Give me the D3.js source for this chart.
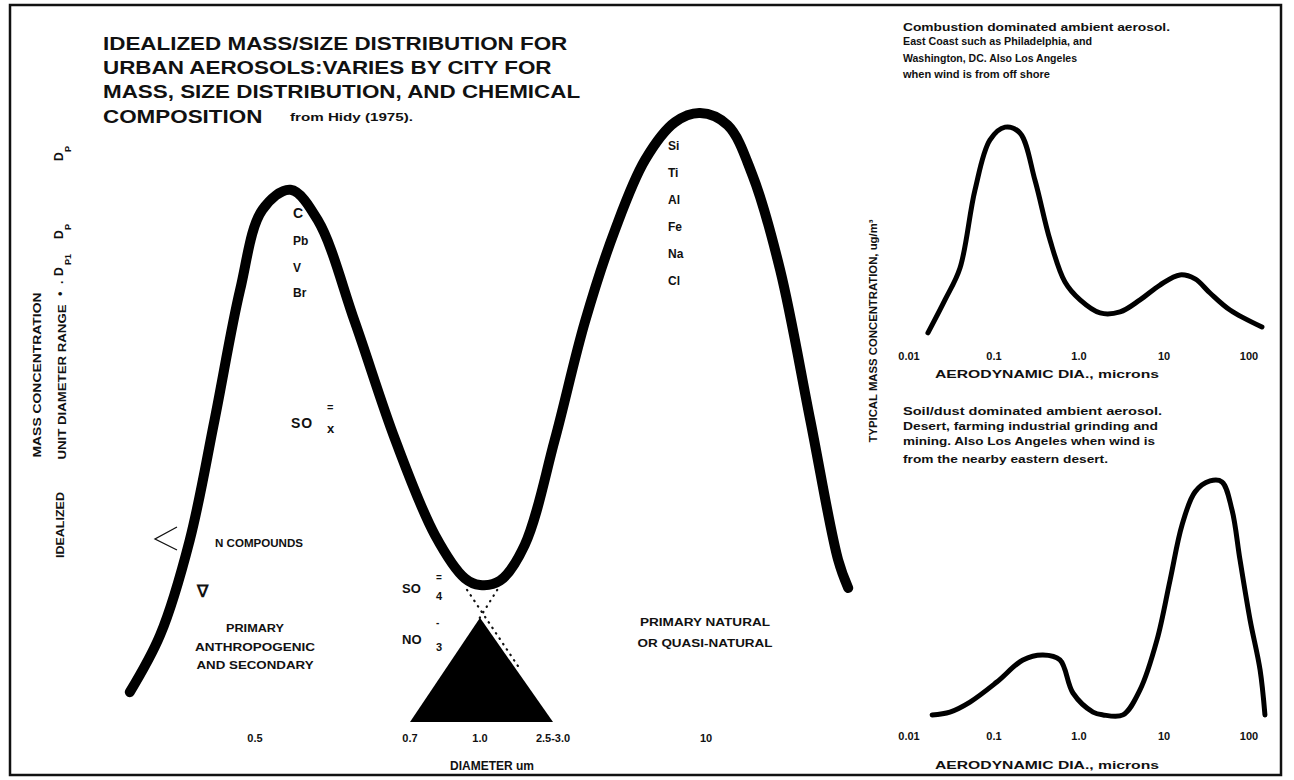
<!DOCTYPE html>
<html>
<head>
<meta charset="utf-8">
<script src="https://cdn.jsdelivr.net/npm/d3@7"></script>
<style>
  body { margin: 0; background: #fff; }
  text { font-family: "Liberation Sans", Arial, sans-serif; font-weight: bold; fill: #111; }
</style>
</head>
<body>
<div id="container"></div>
<script>
/* DATA */
// main idealized distribution (diameter in um, relative mass)
const mainTickValues = [0.5, 0.7, 1.0, 2.75, 10];
const mainTickLabels = ["0.5", "0.7", "1.0", "2.5-3.0", "10"];
const mainDiam = [0.381, 0.407, 0.434, 0.458, 0.484, 0.508, 0.540, 0.573, 0.621, 0.678,
  0.795, 0.926, 1.0, 1.32, 1.86, 2.79, 3.60, 4.64, 5.98, 7.70, 9.51, 12.0, 14.8, 18.7, 24.1, 30.5, 33.2];
const mainMass = [0.049, 0.143, 0.299, 0.496, 0.709, 0.841, 0.874, 0.824, 0.657, 0.463,
  0.307, 0.236, 0.225, 0.232, 0.291, 0.463, 0.657, 0.808, 0.923, 0.985, 1.0, 0.980, 0.898, 0.742, 0.496, 0.266, 0.220];

// sulfate / nitrate triangle and dotted guide lines
const triDiam = [0.7, 1.0, 2.75];
const triMass = [0, 0.171, 0];
const dotA = { diam: [0.936, 1.72], mass: [0.217, 0.089] };
const dotB = { diam: [1.27, 0.985], mass: [0.217, 0.164] };

const fineElements = ["C", "Pb", "V", "Br"];
const coarseElements = ["Si", "Ti", "Al", "Fe", "Na", "Cl"];

// insets: typical mass concentration vs aerodynamic diameter
const insetTickValues = [0.01, 0.1, 1, 10, 100];
const insetTickLabels = ["0.01", "0.1", "1.0", "10", "100"];
const combustionDiam = [0.0167, 0.0265, 0.0398, 0.0597, 0.0897, 0.135, 0.202, 0.303, 0.456, 0.684,
  1.03, 1.77, 3.04, 5.22, 8.97, 15.4, 23.2, 34.8, 59.8, 142];
const combustionMass = [0.01, 0.167, 0.319, 0.69, 0.929, 0.99, 0.962, 0.738, 0.452, 0.252,
  0.167, 0.105, 0.11, 0.167, 0.238, 0.286, 0.267, 0.2, 0.119, 0.038];
const soilDiam = [0.0187, 0.0303, 0.0522, 0.108, 0.219, 0.377, 0.597, 0.849, 1.46, 1.92, 3.29,
  5.22, 8.27, 11.8, 16.3, 23.2, 34.8, 48.1, 63.1, 78.4, 103, 135, 154];
const soilMass = [0.013, 0.025, 0.067, 0.151, 0.244, 0.265, 0.244, 0.105, 0.025, 0.013, 0.013,
  0.118, 0.328, 0.58, 0.811, 0.95, 0.996, 0.992, 0.874, 0.664, 0.412, 0.202, 0.013];

const titleLines = ["IDEALIZED MASS/SIZE DISTRIBUTION FOR", "URBAN AEROSOLS:VARIES BY CITY FOR",
  "MASS, SIZE DISTRIBUTION, AND CHEMICAL", "COMPOSITION"];
const combustionNote = ["Combustion dominated ambient aerosol.", "East Coast such as Philadelphia, and",
  "Washington, DC. Also Los Angeles", "when wind is from off shore"];
const soilNote = ["Soil/dust dominated ambient aerosol.", "Desert, farming industrial grinding and",
  "mining. Also Los Angeles when wind is", "from the nearby eastern desert."];

/* CONSTANTS AND GLOBALS */
const width = 1294, height = 780;

const svg = d3.select('#container')
  .append('svg')
  .attr("width", width)
  .attr("height", height);

// squeeze or stretch a text to a given width
function fit(sel, w) {
  return sel.attr("textLength", w).attr("lengthAdjust", "spacingAndGlyphs");
}

// frame
svg.append("rect")
  .attr("x", 10).attr("y", 5)
  .attr("width", 1271).attr("height", 770)
  .attr("fill", "none").attr("stroke", "#111").attr("stroke-width", 2.5);

// Main scales (schematic, piecewise log axis)
const xMain = d3.scaleLog()
  .domain(mainTickValues)
  .range([255, 410, 480, 553, 706]);
const yMain = d3.scaleLinear()
  .domain([0, 1])
  .range([722, 113]);

const mainLine = d3.line()
  .x(d => xMain(d[0]))
  .y(d => yMain(d[1]))
  .curve(d3.curveCatmullRom.alpha(0.5));

// triangle (SO4 / NO3 range)
svg.append("path")
  .attr("d", d3.line()(triDiam.map((d, i) => [xMain(d), yMain(triMass[i])])) + "Z")
  .attr("fill", "#000");

[dotA, dotB].forEach(l => {
  svg.append("path")
    .attr("d", d3.line()(l.diam.map((d, i) => [xMain(d), yMain(l.mass[i])])))
    .attr("stroke", "#111")
    .attr("stroke-width", 2.2)
    .attr("stroke-linecap", "round")
    .attr("stroke-dasharray", "0.5,6")
    .attr("fill", "none");
});

svg.append("path")
  .attr("d", mainLine(mainDiam.map((d, i) => [d, mainMass[i]])))
  .attr("fill", "none")
  .attr("stroke", "#000")
  .attr("stroke-width", 10)
  .attr("stroke-linejoin", "round")
  .attr("stroke-linecap", "round");

// main tick labels
svg.append("g").selectAll("text")
  .data(mainTickValues)
  .join("text")
  .attr("x", d => xMain(d))
  .attr("y", 742)
  .attr("text-anchor", "middle")
  .attr("font-size", 11)
  .attr("font-weight", "normal")
  .text((d, i) => mainTickLabels[i]);

svg.append("text")
  .attr("x", 492).attr("y", 770)
  .attr("text-anchor", "middle")
  .attr("font-size", 12)
  .attr("font-weight", "normal")
  .text("DIAMETER  um");

// title
const title = svg.append("g")
  .attr("transform", "translate(103,0) scale(1.18,1)");
titleLines.forEach((t, i) => {
  title.append("text")
    .attr("x", 0)
    .attr("y", 50 + i * 24.2)
    .attr("font-size", 19)
    .text(t);
});
fit(svg.append("text").attr("x", 290).attr("y", 121).attr("font-size", 11), 123)
  .text("from Hidy (1975).");

// element labels under the peaks
svg.append("g").selectAll("text")
  .data(fineElements)
  .join("text")
  .attr("x", 293)
  .attr("y", (d, i) => [218, 245, 272, 297][i])
  .attr("font-size", (d, i) => i === 0 ? 14 : 12)
  .text(d => d);

svg.append("g").selectAll("text")
  .data(coarseElements)
  .join("text")
  .attr("x", 668)
  .attr("y", (d, i) => 150 + i * 27)
  .attr("font-size", 12)
  .text(d => d);

// SOx
svg.append("text").attr("x", 291).attr("y", 428).attr("font-size", 14).attr("letter-spacing", 1).text("SO");
svg.append("text").attr("x", 327).attr("y", 411).attr("font-size", 11).text("=");
svg.append("text").attr("x", 327).attr("y", 433).attr("font-size", 13).text("x");

// SO4 / NO3
svg.append("text").attr("x", 402).attr("y", 593).attr("font-size", 13).text("SO");
svg.append("text").attr("x", 436).attr("y", 581).attr("font-size", 10).text("=");
svg.append("text").attr("x", 436).attr("y", 600).attr("font-size", 11).text("4");
svg.append("text").attr("x", 402).attr("y", 644).attr("font-size", 13).text("NO");
svg.append("text").attr("x", 436).attr("y", 626).attr("font-size", 10).text("-");
svg.append("text").attr("x", 436).attr("y", 651).attr("font-size", 11).text("3");

// N compounds
fit(svg.append("text").attr("x", 215).attr("y", 547).attr("font-size", 11), 88).text("N COMPOUNDS");
svg.append("path")
  .attr("d", "M177,527 L155,539 L177,550")
  .attr("fill", "none").attr("stroke", "#111").attr("stroke-width", 1.3);
svg.append("text").attr("x", 197).attr("y", 597).attr("font-size", 17).attr("font-weight", "normal").text("∇");

// source notes
[["PRIMARY", 58], ["ANTHROPOGENIC", 120], ["AND SECONDARY", 117]].forEach((d, i) => {
  fit(svg.append("text").attr("x", 255).attr("y", 632 + i * 18.5).attr("font-size", 11)
    .attr("text-anchor", "middle"), d[1]).text(d[0]);
});
[["PRIMARY NATURAL", 130], ["OR QUASI-NATURAL", 135]].forEach((d, i) => {
  fit(svg.append("text").attr("x", 705).attr("y", 626 + i * 21).attr("font-size", 11)
    .attr("text-anchor", "middle"), d[1]).text(d[0]);
});

// left rotated labels
const leftLab = (x, y, t, w) => {
  fit(svg.append("text")
    .attr("transform", `translate(${x},${y}) rotate(-90)`)
    .attr("text-anchor", "middle")
    .attr("font-size", 11), w).text(t);
};
leftLab(41, 375, "MASS CONCENTRATION", 165);
leftLab(66, 382, "UNIT DIAMETER RANGE", 155);
leftLab(64, 525, "IDEALIZED", 66);

// left symbol column: D_P  D_P D_P1 .  •
const sym = svg.append("g").attr("transform", "translate(64,0) rotate(-90)");
const symText = (y, dx, dy, t, fs) =>
  sym.append("text").attr("x", -y).attr("y", dy).attr("font-size", fs)
    .attr("font-weight", "normal").text(t);
symText(296, 0, 0, "•", 13);
symText(284, 0, -1, ".", 12);
symText(276, 0, -1, "D", 12);
symText(265, 0, 7, "P1", 9);
symText(239, 0, -1, "D", 12);
symText(230, 0, 7, "P", 9);
symText(161, 0, -1, "D", 12);
symText(152, 0, 7, "P", 9);

// Insets
const xInset = d3.scaleLog()
  .domain([0.01, 100])
  .range([909, 1249]);

function drawInset(diam, mass, y0, y1, tickY, labelY) {
  const y = d3.scaleLinear().domain([0, 1]).range([y0, y1]);
  const line = d3.line()
    .x(d => xInset(d[0]))
    .y(d => y(d[1]))
    .curve(d3.curveCatmullRom.alpha(0.5));
  svg.append("path")
    .attr("d", line(diam.map((d, i) => [d, mass[i]])))
    .attr("fill", "none")
    .attr("stroke", "#000")
    .attr("stroke-width", 5)
    .attr("stroke-linejoin", "round")
    .attr("stroke-linecap", "round");
  svg.append("g").selectAll("text")
    .data(insetTickValues)
    .join("text")
    .attr("x", d => xInset(d))
    .attr("y", tickY)
    .attr("text-anchor", "middle")
    .attr("font-size", 11)
    .text((d, i) => insetTickLabels[i]);
  fit(svg.append("text").attr("x", 935).attr("y", labelY).attr("font-size", 11), 224)
    .text("AERODYNAMIC DIA., microns");
}

drawInset(combustionDiam, combustionMass, 335, 125, 360, 378);
drawInset(soilDiam, soilMass, 718, 480, 740, 769);

const noteWidths1 = [267, 189, 174, 147];
combustionNote.forEach((t, i) => {
  fit(svg.append("text").attr("x", 903).attr("y", [31, 45, 62, 78][i]).attr("font-size", 11), noteWidths1[i]).text(t);
});
const noteWidths2 = [259, 255, 252, 205];
soilNote.forEach((t, i) => {
  fit(svg.append("text").attr("x", 903).attr("y", [415, 430, 445, 463][i]).attr("font-size", 11), noteWidths2[i]).text(t);
});

fit(svg.append("text")
  .attr("transform", "translate(877,331) rotate(-90)")
  .attr("text-anchor", "middle")
  .attr("font-size", 11), 223)
  .text("TYPICAL MASS CONCENTRATION, ug/m³");
</script>
</body>
</html>
